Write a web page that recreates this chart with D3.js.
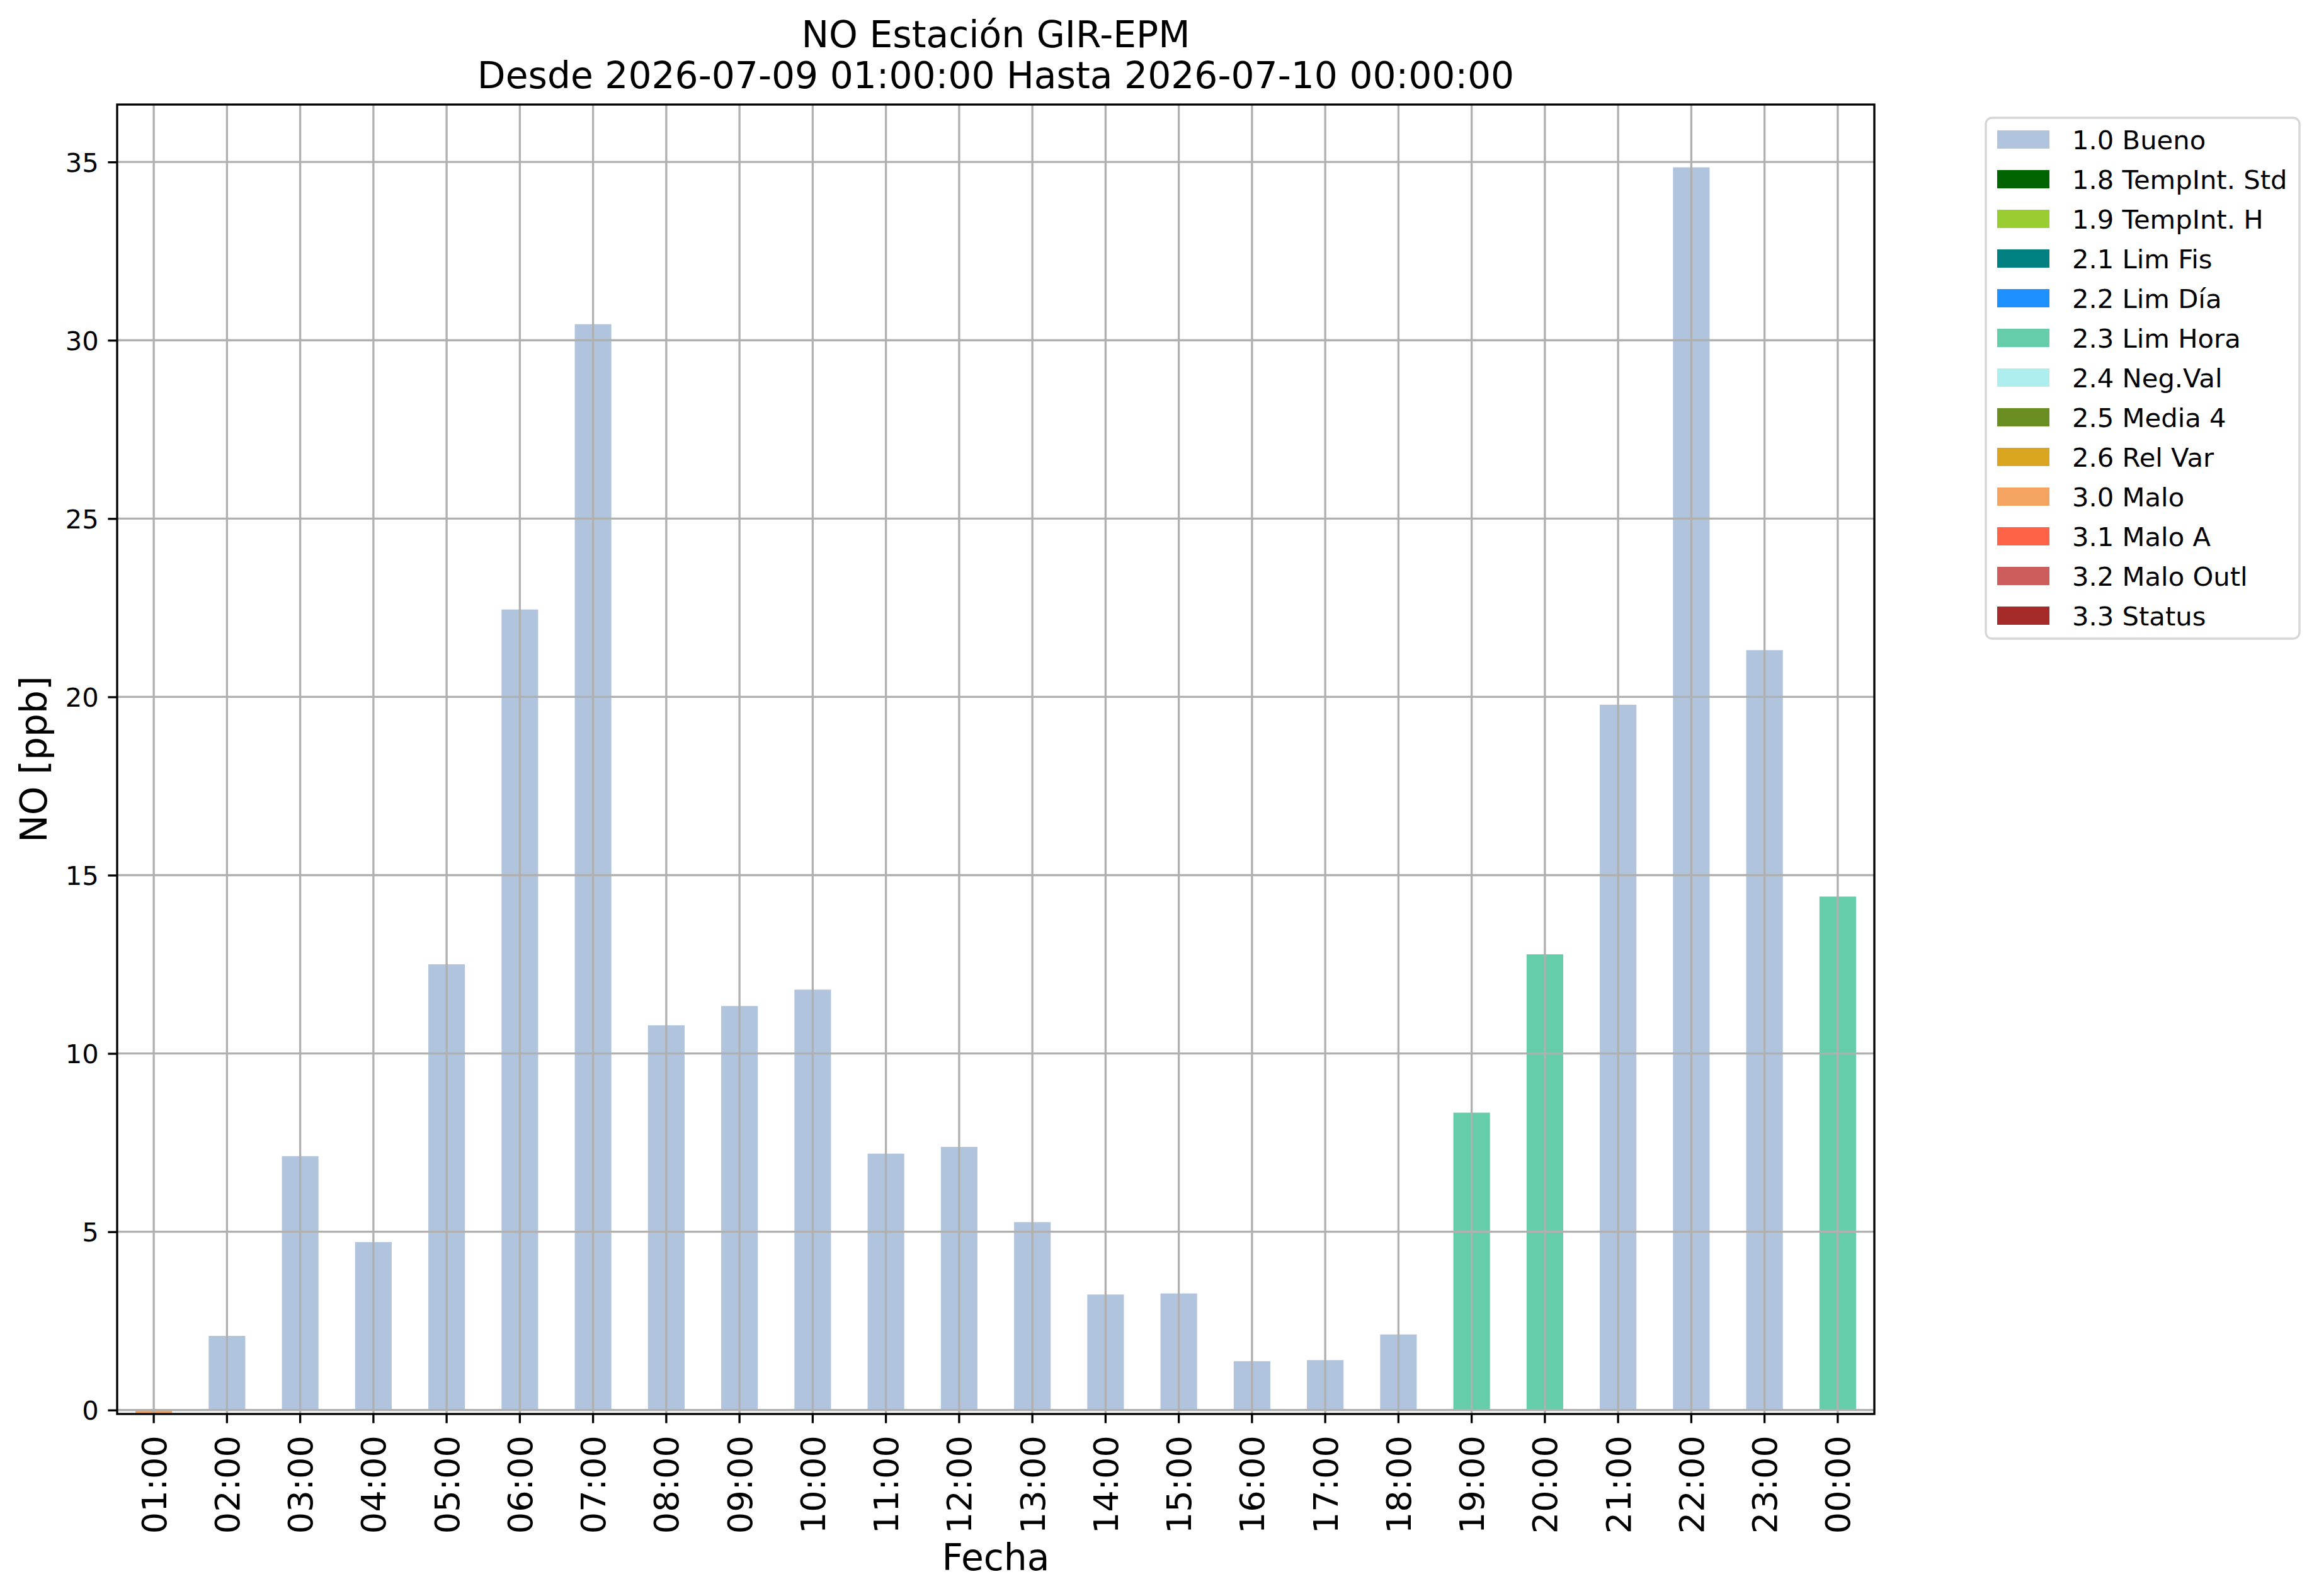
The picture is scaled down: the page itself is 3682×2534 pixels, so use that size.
<!DOCTYPE html>
<html>
<head>
<meta charset="utf-8">
<script src="https://cdn.jsdelivr.net/npm/d3@7"></script>
<style>
  body { margin: 0; background: #fff; }
  text { font-family: "DejaVu Sans", sans-serif; }
</style>
</head>
<body>
<svg id="container"></svg>
<script>
// hourly NO values (ppb) and the quality flag of each hour
const hours = ['01:00', '02:00', '03:00', '04:00', '05:00', '06:00', '07:00', '08:00',
               '09:00', '10:00', '11:00', '12:00', '13:00', '14:00', '15:00', '16:00',
               '17:00', '18:00', '19:00', '20:00', '21:00', '22:00', '23:00', '00:00'];
const values = [-0.08, 2.08, 7.12, 4.71, 12.5, 22.45, 30.45, 10.79,
                11.33, 11.79, 7.19, 7.38, 5.27, 3.24, 3.27, 1.37,
                1.40, 2.12, 8.34, 12.78, 19.78, 34.85, 21.31, 14.40];
const flags = ['3.0 Malo', '1.0 Bueno', '1.0 Bueno', '1.0 Bueno', '1.0 Bueno', '1.0 Bueno', '1.0 Bueno', '1.0 Bueno',
               '1.0 Bueno', '1.0 Bueno', '1.0 Bueno', '1.0 Bueno', '1.0 Bueno', '1.0 Bueno', '1.0 Bueno', '1.0 Bueno',
               '1.0 Bueno', '1.0 Bueno', '2.3 Lim Hora', '2.3 Lim Hora', '1.0 Bueno', '1.0 Bueno', '1.0 Bueno', '2.3 Lim Hora'];

const flagLabels = ['1.0 Bueno', '1.8 TempInt. Std', '1.9 TempInt. H', '2.1 Lim Fis', '2.2 Lim Día',
                    '2.3 Lim Hora', '2.4 Neg.Val', '2.5 Media 4', '2.6 Rel Var', '3.0 Malo',
                    '3.1 Malo A', '3.2 Malo Outl', '3.3 Status'];
const flagColors = ['#b0c4de', '#006400', '#9acd32', '#008080', '#1e90ff',
                    '#66cdaa', '#afeeee', '#6b8e23', '#daa520', '#f4a460',
                    '#ff6347', '#cd5c5c', '#a52a2a'];

const yTicks = [0, 5, 10, 15, 20, 25, 30, 35];
const yDomain = [-0.11, 36.61];

const titleLines = ['NO Estación GIR-EPM', 'Desde 2026-07-09 01:00:00 Hasta 2026-07-10 00:00:00'];

const width = 3682;
const height = 2534;
const axLeft = 186, axRight = 2976, axTop = 166, axBottom = 2245;
const lw = 3.33;

const svg = d3.select('#container')
                .attr('width', width)
                .attr('height', height);

svg.append('rect')
    .attr('width', width)
    .attr('height', height)
    .attr('fill', 'white');

const x = d3.scaleBand()
            .domain(hours)
            .range([axLeft, axRight])
            .paddingInner(0.5)
            .paddingOuter(0.25);

const y = d3.scaleLinear()
            .domain(yDomain)
            .range([axBottom, axTop]);

const color = d3.scaleOrdinal()
                .domain(flagLabels)
                .range(flagColors);

const rows = hours.map((h, i) => ({hour: h, value: values[i], flag: flags[i]}));

// bars
svg.append('g')
    .selectAll('rect')
    .data(rows)
    .enter()
    .append('rect')
    .attr('x', d => x(d.hour))
    .attr('width', x.bandwidth())
    .attr('y', d => y(Math.max(0, d.value)))
    .attr('height', d => Math.abs(y(d.value) - y(0)))
    .attr('fill', d => color(d.flag));

// grid (drawn over the bars, like the original)
const grid = svg.append('g')
                .attr('stroke', '#b0b0b0')
                .attr('stroke-width', lw);

grid.selectAll('line.gy')
    .data(yTicks)
    .enter()
    .append('line')
    .attr('class', 'gy')
    .attr('x1', axLeft)
    .attr('x2', axRight)
    .attr('y1', d => y(d))
    .attr('y2', d => y(d));

grid.selectAll('line.gx')
    .data(hours)
    .enter()
    .append('line')
    .attr('class', 'gx')
    .attr('x1', d => x(d) + x.bandwidth() / 2)
    .attr('x2', d => x(d) + x.bandwidth() / 2)
    .attr('y1', axTop)
    .attr('y2', axBottom);

// axes
const xAxis = svg.append('g')
                .attr('transform', 'translate(0,' + axBottom + ')')
                .call(d3.axisBottom(x).tickSizeOuter(0).tickSize(14.6).tickPadding(0));

xAxis.select('.domain').remove();
xAxis.selectAll('.tick line').attr('stroke', 'black').attr('stroke-width', lw);
xAxis.selectAll('.tick text')
    .attr('font-size', 54.2)
    .attr('fill', 'black')
    .attr('text-anchor', 'end')
    .attr('y', 0)
    .attr('dy', '0.36em')
    .attr('transform', 'translate(0,34) rotate(-90)');

const yAxis = svg.append('g')
                .attr('transform', 'translate(' + axLeft + ',0)')
                .call(d3.axisLeft(y).tickValues(yTicks).tickSizeOuter(0).tickSize(14.6).tickPadding(14.6));

yAxis.select('.domain').remove();
yAxis.selectAll('.tick line').attr('stroke', 'black').attr('stroke-width', lw);
yAxis.selectAll('.tick text')
    .attr('font-size', 41.7)
    .attr('fill', 'black')
    .attr('dy', '0.36em');

// spines
svg.append('rect')
    .attr('x', axLeft)
    .attr('y', axTop)
    .attr('width', axRight - axLeft)
    .attr('height', axBottom - axTop)
    .attr('fill', 'none')
    .attr('stroke', 'black')
    .attr('stroke-width', lw);

// titles and labels
svg.selectAll('text.title')
    .data(titleLines)
    .enter()
    .append('text')
    .attr('class', 'title')
    .attr('x', (axLeft + axRight) / 2)
    .attr('y', (d, i) => 75 + i * 65)
    .attr('text-anchor', 'middle')
    .attr('font-size', 58.3)
    .text(d => d);

svg.append('text')
    .attr('x', (axLeft + axRight) / 2)
    .attr('y', 2493)
    .attr('text-anchor', 'middle')
    .attr('font-size', 58.3)
    .text('Fecha');

svg.append('text')
    .attr('transform', 'translate(74,' + (axTop + axBottom) / 2 + ') rotate(-90)')
    .attr('text-anchor', 'middle')
    .attr('font-size', 58.3)
    .text('NO [ppb]');

// legend
const legend = svg.append('g');

legend.append('rect')
    .attr('x', 3153)
    .attr('y', 187)
    .attr('width', 498)
    .attr('height', 827)
    .attr('rx', 10)
    .attr('fill', 'white')
    .attr('stroke', '#d6d6d6')
    .attr('stroke-width', lw);

const items = legend.selectAll('g.item')
                .data(flagLabels)
                .enter()
                .append('g')
                .attr('class', 'item')
                .attr('transform', (d, i) => 'translate(3171,' + (207 + i * 63) + ')');

items.append('rect')
    .attr('width', 83)
    .attr('height', 29)
    .attr('fill', d => color(d));

items.append('text')
    .attr('x', 119)
    .attr('y', 30)
    .attr('font-size', 41.7)
    .text(d => d);
</script>
</body>
</html>
